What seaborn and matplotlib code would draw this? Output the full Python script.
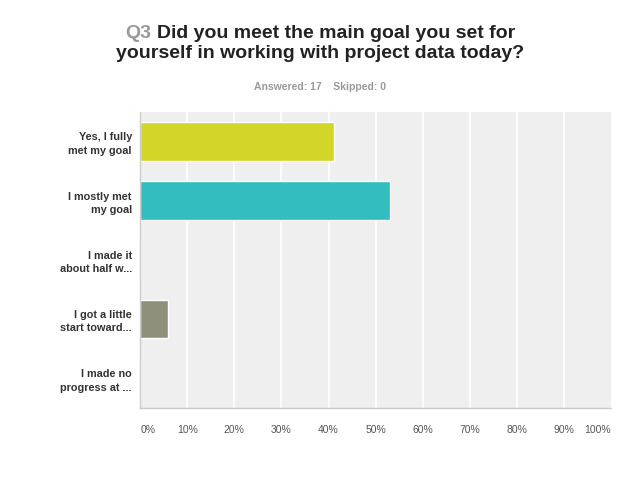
import matplotlib
matplotlib.use("Agg")
import matplotlib.pyplot as plt
import seaborn as sns
import pandas as pd

categories = ["Yes, I fully\nmet my goal", "I mostly met\nmy goal", "I made it\nabout half w...",
              "I got a little\nstart toward...", "I made no\nprogress at ..."]
percent = [41.18, 52.94, 0.0, 5.88, 0.0]
colors = ["#d1d628", "#33bdbf", "#6b8fb3", "#8f907c", "#d9a23c"]
xticks = [0, 10, 20, 30, 40, 50, 60, 70, 80, 90, 100]
xticklabels = ["0%", "10%", "20%", "30%", "40%", "50%", "60%", "70%", "80%", "90%", "100%"]

df = pd.DataFrame({"cat": categories, "pct": percent})

sns.set_theme(style="white")
plt.rcParams["font.family"] = ["Liberation Sans", "DejaVu Sans"]

fig = plt.figure(figsize=(6.4, 4.8), dpi=100)
ax = fig.add_axes([0.219, 0.15, 0.736, 0.617])
ax.set_facecolor("#efefef")

sns.barplot(data=df, x="pct", y="cat", hue="cat", palette=colors, legend=False,
            width=0.65, ax=ax, orient="h", saturation=1)

ax.set_xlim(0, 100)
ax.set_ylim(4.5, -0.5)
ax.set_xticks(xticks)
ax.set_xticklabels(xticklabels, fontsize=7.5, color="#555555")
xl = ax.get_xticklabels()
xl[0].set_horizontalalignment("left")
xl[-1].set_horizontalalignment("right")
for x in xticks[1:-1]:
    ax.axvline(x, color="white", lw=1.2, zorder=0.5)
ax.set_xlabel("")
ax.set_ylabel("")
ax.tick_params(axis="y", length=0, pad=6)
ax.tick_params(axis="x", length=0, pad=12)
for lab in ax.get_yticklabels():
    lab.set_fontsize(7.8)
    lab.set_fontweight("bold")
    lab.set_color("#333333")
    lab.set_horizontalalignment("right")
    lab.set_multialignment("right")
    lab.set_linespacing(1.4)
for s in ["top", "right"]:
    ax.spines[s].set_visible(False)
for s in ["left", "bottom"]:
    ax.spines[s].set_color("#cccccc")
    ax.spines[s].set_linewidth(1.0)

# Title with gray "Q3" and dark remainder
tsize = 14
t1 = "Did you meet the main goal you set for"
full1 = "Q3 " + t1
r = fig.canvas.get_renderer()
tmp = fig.text(0, 0, full1, fontsize=tsize, fontweight="bold")
w_full = tmp.get_window_extent(r).width
tmp.remove()
tmp = fig.text(0, 0, "Q3 ", fontsize=tsize, fontweight="bold")
w_q = tmp.get_window_extent(r).width
tmp.remove()
x0 = (640 - w_full) / 2 / 640
fig.text(x0, 0.921, "Q3", ha="left", va="baseline", fontsize=tsize, fontweight="bold", color="#999999")
fig.text(x0 + w_q / 640, 0.921, t1, ha="left", va="baseline", fontsize=tsize, fontweight="bold", color="#222222")
fig.text(0.5, 0.879, "yourself in working with project data today?", ha="center", va="baseline",
         fontsize=tsize, fontweight="bold", color="#222222")
fig.text(0.5, 0.813, "Answered: 17    Skipped: 0", ha="center", va="baseline",
         fontsize=7.5, fontweight="bold", color="#999999")

fig.savefig("out.png", dpi=100)
